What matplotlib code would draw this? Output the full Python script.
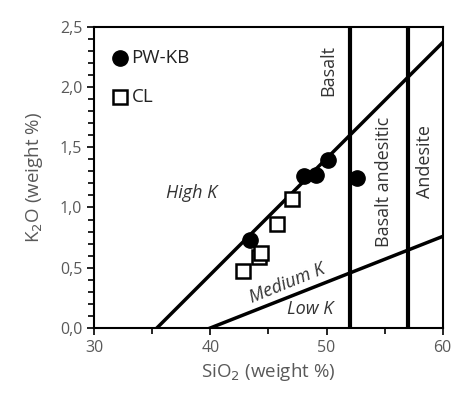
import matplotlib
matplotlib.use("Agg")
import matplotlib.pyplot as plt
from matplotlib.ticker import MultipleLocator, FuncFormatter

plt.rcParams['font.family'] = ['Open Sans', 'DejaVu Sans']

# data
pw_x = [43.4, 48.1, 49.1, 50.1, 52.65]
pw_y = [0.73, 1.265, 1.27, 1.395, 1.245]
cl_x = [42.85, 44.2, 44.4, 45.7, 47.05]
cl_y = [0.47, 0.59, 0.62, 0.86, 1.07]

# classification boundaries
highk_x = [35.4, 60]
highk_y = [0.0, 2.37]
lowk_x = [40, 60]
lowk_y = [0.0, 0.76]
vlines = [52, 57]

fig = plt.figure(figsize=(4.71, 4.12), dpi=100)
ax = fig.add_axes([0.2, 0.204, 0.74, 0.731])

ax.plot(highk_x, highk_y, color='black', lw=2.5)
ax.plot(lowk_x, lowk_y, color='black', lw=2.5)
for v in vlines:
    ax.axvline(v, color='black', lw=3)

ax.plot(pw_x, pw_y, 'o', color='black', ms=11, zorder=5)
ax.plot(cl_x, cl_y, 's', mfc='white', mec='black', mew=1.8, ms=10.5, zorder=5)

# legend drawn by hand
ax.plot([32.2], [2.24], 'o', color='black', ms=11, clip_on=False)
ax.plot([32.2], [1.92], 's', mfc='white', mec='black', mew=1.8, ms=10.5)
ax.text(33.2, 2.24, 'PW-KB', fontsize=13.5, va='center', color='#222222')
ax.text(33.2, 1.92, 'CL', fontsize=13.5, va='center', color='#222222')

txt = '#333333'
ax.text(38.4, 1.12, 'High K', style='italic', fontsize=13, ha='center', va='center', color=txt)
ax.text(46.6, 0.37, 'Medium K', style='italic', fontsize=13, ha='center', va='center',
        rotation=22, color=txt)
ax.text(48.6, 0.16, 'Low K', style='italic', fontsize=13, ha='center', va='center', color=txt)
ax.text(50.15, 2.14, 'Basalt', fontsize=13, rotation=90, ha='center', va='center', color=txt)
ax.text(54.95, 1.215, 'Basalt andesitic', fontsize=13, rotation=90, ha='center', va='center', color=txt)
ax.text(58.5, 1.38, 'Andesite', fontsize=13, rotation=90, ha='center', va='center', color=txt)

ax.set_xlim(30, 60)
ax.set_ylim(0, 2.5)
ax.xaxis.set_major_locator(MultipleLocator(10))
ax.xaxis.set_minor_locator(MultipleLocator(5))
ax.yaxis.set_major_locator(MultipleLocator(0.5))
ax.yaxis.set_minor_locator(MultipleLocator(0.1))
ax.yaxis.set_major_formatter(FuncFormatter(lambda v, p: f'{v:.1f}'.replace('.', ',')))

ax.tick_params(which='both', direction='out', colors='black', labelcolor='#595959', labelsize=11.5)
ax.tick_params(which='major', length=5, width=1.2)
ax.tick_params(which='minor', length=4, width=1.2)
for s in ax.spines.values():
    s.set_linewidth(1.5)

ax.set_xlabel('SiO$_2$ (weight %)', fontsize=13.5, color='#595959', labelpad=4)
ax.set_ylabel('K$_2$O (weight %)', fontsize=13.5, color='#595959', labelpad=11)

fig.savefig('out.png', dpi=100)
